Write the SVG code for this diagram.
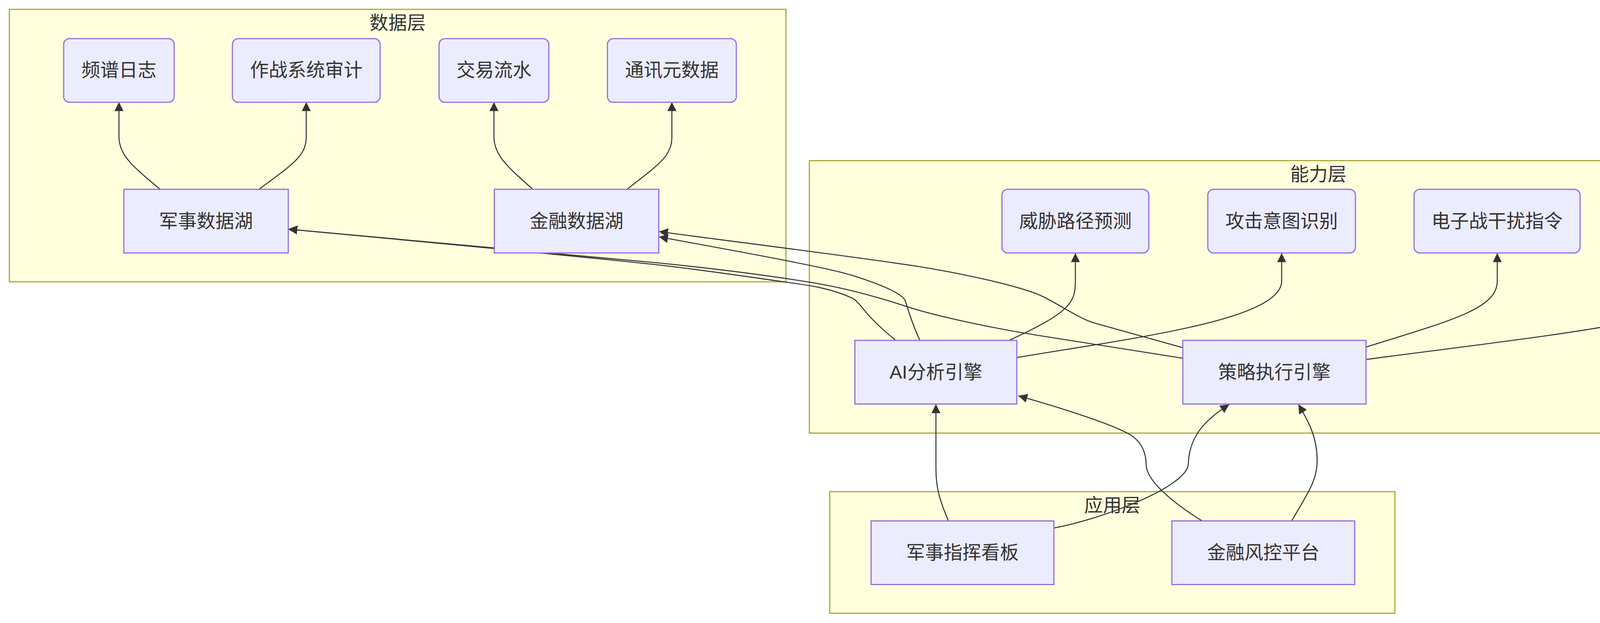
<svg xmlns="http://www.w3.org/2000/svg" width="4703" height="1596" viewBox="0 0 4703 1596">
<style>
.cluster{fill:#ffffde;stroke:#aaaa33;stroke-width:3}
.ctitle{font-family:"Liberation Sans","Noto Sans CJK SC",sans-serif;font-size:48px;fill:#333333;text-anchor:middle}
.node rect{fill:#ECECFF;stroke:#9370DB;stroke-width:3}
.node text{font-family:"Liberation Sans","Noto Sans CJK SC",sans-serif;font-size:48px;fill:#333333;text-anchor:middle}
.edge{fill:none;stroke:#333333;stroke-width:2.6;marker-end:url(#arrow)}
</style>
<defs>
<marker id="arrow" viewBox="0 0 10 10" refX="10" refY="5" markerUnits="userSpaceOnUse" markerWidth="23" markerHeight="23" orient="auto">
<path d="M0,0 L10,5 L0,10 z" fill="#333333"/>
</marker>
</defs>
<rect width="4703" height="1596" fill="#ffffff"/>
<g id="clusters">
<g id="cluster-data">
<rect class="cluster" x="24" y="24" width="1988" height="698"/>
<text class="ctitle" x="1018" y="75">数据层</text>
</g>
<g id="cluster-capability">
<rect class="cluster" x="2072" y="411.5" width="2606" height="698"/>
<text class="ctitle" x="3375" y="463">能力层</text>
</g>
<g id="cluster-app">
<rect class="cluster" x="2124" y="1259.5" width="1447" height="311.5"/>
<text class="ctitle" x="2847.5" y="1311">应用层</text>
</g>
</g>
<g id="connectors">
<path class="edge" d="M410,485 C345,430 304.5,400 304.5,350 L304.5,261.5"/>
<path class="edge" d="M663,485 C750,420 784,400 784,350 L784,261.5"/>
<path class="edge" d="M1364,485 C1303,430 1264.5,400 1264.5,350 L1264.5,261.5"/>
<path class="edge" d="M1605,485 C1688,420 1720,400 1720,350 L1720,261.5"/>
<path class="edge" d="M2583,872 C2740,800 2753,775 2753,720 L2753,648.5"/>
<path class="edge" d="M2603,916 C2900,866 3281,820 3281,720 L3281,648.5"/>
<path class="edge" d="M3497,889 C3720,820 3833,790 3833,720 L3833,648.5"/>
<path class="edge" d="M3497,921 C3950,860 4385,820 4385,730 L4385,648.5"/>
<path class="edge" d="M2293,872 C2265,849 2233.5,819.6 2217,800 C2205.25,786 2194,769.4 2180,763 C2124,737.4 2067.5,730.5 2012,722.7 C1901,707.2 1791,690.5 1680,678 C1380,646 1038,615.5 738,587"/>
<path class="edge" d="M3028,917.7 L2680,862.7 C2560,844.7 2400,811.4 2320,785 C2230,755.3 2152,735.5 2072,722.7 C1942,701.9 1810,686 1680,673 C1380,645 1038,615.5 738,587"/>
<path class="edge" d="M2355,872 C2340,840 2328,805 2318,772 C2312,752 2250,727 2180,705 C2110,683 1837,634.7 1687,606.7"/>
<path class="edge" d="M3028,890.7 L2800,827 C2760,815.8 2690,765 2647,750 C2567,722 2437,696.4 2347,682 C2147,652 1887,620.3 1687,593.3"/>
<path class="edge" d="M2428,1334.5 C2405,1280 2396,1250 2396,1200 L2396,1035.5"/>
<path class="edge" d="M2698,1352.7 C2818,1330 3035,1250 3042,1190 C3044,1110 3095,1070 3147,1036"/>
<path class="edge" d="M3076,1333.7 C3030,1305 2935,1240 2934,1190 C2934,1165 2926,1138 2900,1118 C2860,1090 2707,1042 2607,1014"/>
<path class="edge" d="M3307,1334 C3350,1260 3372,1230 3372,1180 C3372,1120 3350,1080 3324,1036"/>
</g>
<g id="node-pinpu" class="node"><rect x="163" y="99" width="283" height="163" rx="15" ry="15"/><text x="304.5" y="196">频谱日志</text></g>
<g id="node-zuozhan" class="node"><rect x="595" y="99" width="378" height="163" rx="15" ry="15"/><text x="784" y="196">作战系统审计</text></g>
<g id="node-jiaoyi" class="node"><rect x="1124" y="99" width="281" height="163" rx="15" ry="15"/><text x="1264.5" y="196">交易流水</text></g>
<g id="node-tongxun" class="node"><rect x="1555" y="99" width="330" height="163" rx="15" ry="15"/><text x="1720" y="196">通讯元数据</text></g>
<g id="node-junshi-lake" class="node"><rect x="317" y="485" width="421" height="163"/><text x="527.5" y="582.5">军事数据湖</text></g>
<g id="node-jinrong-lake" class="node"><rect x="1265.5" y="485" width="421" height="163"/><text x="1476" y="582.5">金融数据湖</text></g>
<g id="node-weixie" class="node"><rect x="2565" y="485" width="376" height="163" rx="15" ry="15"/><text x="2753" y="582.5">威胁路径预测</text></g>
<g id="node-gongji" class="node"><rect x="3092" y="485" width="378" height="163" rx="15" ry="15"/><text x="3281" y="582.5">攻击意图识别</text></g>
<g id="node-dianzi" class="node"><rect x="3620" y="485" width="425" height="163" rx="15" ry="15"/><text x="3832.5" y="582.5">电子战干扰指令</text></g>
<g id="node-zhifu" class="node"><rect x="4197" y="485" width="376" height="163" rx="15" ry="15"/><text x="4385" y="582.5">支付通道熔断</text></g>
<g id="node-ai" class="node"><rect x="2188.5" y="872" width="414.5" height="163"/><text x="2396" y="969.5">AI分析引擎</text></g>
<g id="node-celue" class="node"><rect x="3028" y="872" width="469" height="163"/><text x="3262.5" y="969.5">策略执行引擎</text></g>
<g id="node-junshi-board" class="node"><rect x="2230" y="1334.5" width="468" height="163"/><text x="2464" y="1432">军事指挥看板</text></g>
<g id="node-jinrong-risk" class="node"><rect x="3000" y="1334.5" width="468" height="163"/><text x="3234" y="1432">金融风控平台</text></g>
</svg>
